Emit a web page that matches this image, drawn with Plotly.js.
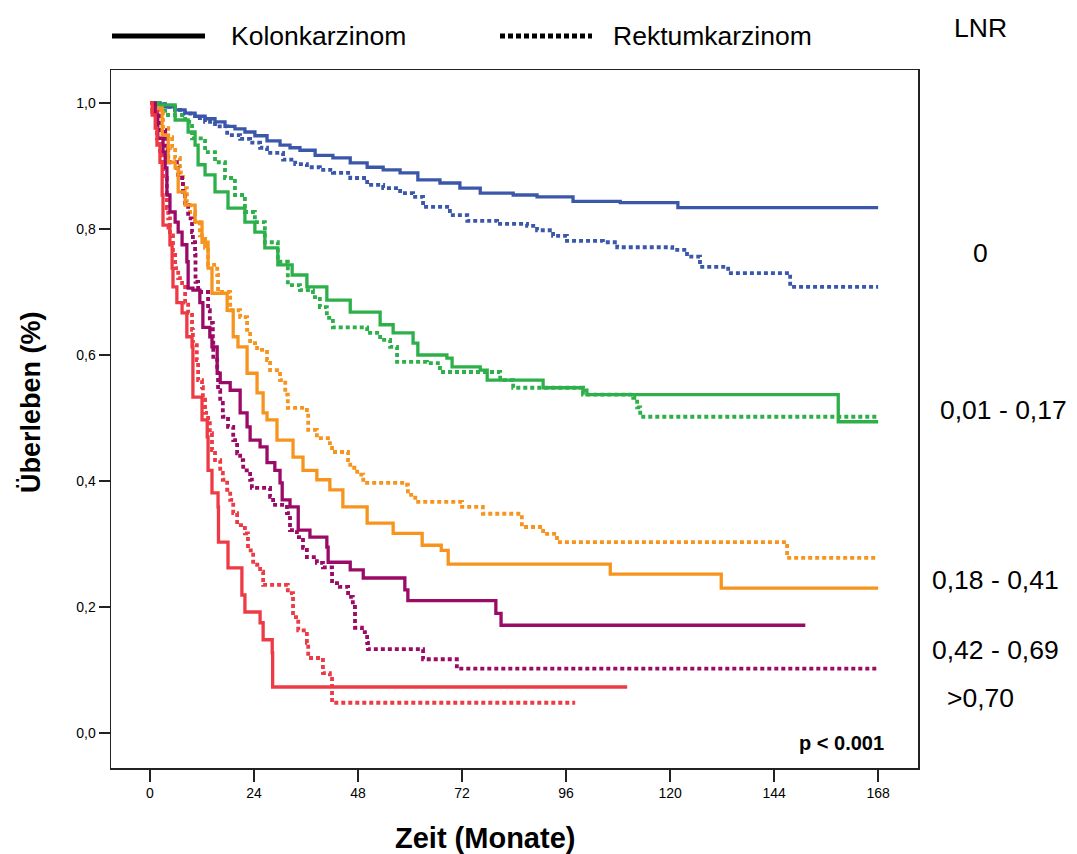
<!DOCTYPE html>
<html><head><meta charset="utf-8">
<script src="https://cdn.plot.ly/plotly-3.0.1.min.js"></script>
<style>html,body{margin:0;padding:0;background:#fff;} #chart{width:1077px;height:854px;}</style>
</head><body><div id="chart"></div>
<script>
// ---- labels ----
const groupLabels = ["0", "0,01 - 0,17", "0,18 - 0,41", "0,42 - 0,69", ">0,70"];
const seriesNames = ["Kolonkarzinom", "Rektumkarzinom"];
const xTickVals = [0, 24, 48, 72, 96, 120, 144, 168];
const xTickText = ["0", "24", "48", "72", "96", "120", "144", "168"];
const yTickVals = [0, 0.2, 0.4, 0.6, 0.8, 1.0];
const yTickText = ["0,0", "0,2", "0,4", "0,6", "0,8", "1,0"];

// ---- Kolonkarzinom (solid) ----
const kolon_lnr0_t = [0, 1.15, 3.46, 5.77, 8.08, 10.4, 12.7, 15.0, 17.3, 19.6, 21.9, 24.2, 27.0, 30.0, 32.3, 34.6, 38.1, 42.2, 46.2, 50.1, 53.8, 57.7, 61.8, 66.9, 71.5, 76.2, 83.8, 89.3, 97.6, 108.5, 121.8, 168];
const kolon_lnr0_s = [1.0, 0.998, 0.994, 0.989, 0.984, 0.979, 0.975, 0.970, 0.963, 0.959, 0.954, 0.948, 0.940, 0.933, 0.929, 0.925, 0.917, 0.913, 0.905, 0.898, 0.894, 0.889, 0.878, 0.873, 0.865, 0.857, 0.854, 0.851, 0.844, 0.842, 0.834, 0.834];

const kolon_lnr1_t = [0, 1.8, 5.8, 8.8, 10.4, 11.1, 12.7, 15.0, 18.0, 21.9, 24.2, 26.5, 29.5, 32.8, 36.2, 40.8, 46.2, 53.1, 56.1, 60.7, 61.8, 68.5, 69.7, 76.2, 77.8, 90.7, 99.9, 100.8, 158.8, 168];
const kolon_lnr1_s = [1.0, 0.997, 0.973, 0.954, 0.933, 0.902, 0.886, 0.859, 0.833, 0.811, 0.795, 0.770, 0.743, 0.727, 0.708, 0.687, 0.668, 0.648, 0.635, 0.619, 0.600, 0.595, 0.581, 0.576, 0.560, 0.548, 0.544, 0.537, 0.494, 0.494];

const kolon_lnr2_t = [0, 0.7, 2.8, 4.2, 5.8, 6.5, 8.1, 10.4, 12.0, 13.4, 14.3, 17.8, 19.2, 20.3, 22.4, 24.7, 26.1, 27.0, 29.3, 33.0, 35.3, 38.5, 41.5, 44.5, 50.1, 56.1, 62.8, 67.2, 68.8, 106.2, 131.8, 168];
const kolon_lnr2_s = [1.0, 0.992, 0.949, 0.906, 0.897, 0.859, 0.838, 0.811, 0.779, 0.738, 0.698, 0.671, 0.629, 0.613, 0.571, 0.540, 0.508, 0.497, 0.465, 0.438, 0.417, 0.402, 0.386, 0.359, 0.333, 0.317, 0.298, 0.290, 0.268, 0.252, 0.230, 0.230];

const kolon_lnr3_t = [0, 1.2, 1.8, 3.0, 3.5, 3.9, 4.6, 5.8, 6.5, 7.4, 8.5, 8.8, 9.9, 11.5, 12.2, 13.8, 14.3, 15.5, 16.2, 18.5, 20.8, 22.4, 23.1, 25.4, 27.0, 28.8, 30.0, 30.5, 32.3, 34.2, 36.9, 40.8, 41.1, 46.2, 49.2, 58.8, 59.5, 79.8, 81.0, 151.2];
const kolon_lnr3_s = [1.0, 0.981, 0.944, 0.922, 0.897, 0.854, 0.827, 0.811, 0.795, 0.775, 0.748, 0.706, 0.703, 0.683, 0.644, 0.629, 0.613, 0.571, 0.556, 0.544, 0.508, 0.486, 0.465, 0.454, 0.429, 0.417, 0.397, 0.370, 0.359, 0.322, 0.311, 0.295, 0.271, 0.259, 0.246, 0.227, 0.210, 0.190, 0.171, 0.171];

const kolon_lnr4_t = [0, 0.5, 1.2, 1.6, 2.3, 2.8, 3.0, 4.2, 4.6, 5.1, 5.3, 6.2, 7.4, 8.5, 9.7, 9.9, 12.0, 13.2, 13.4, 14.3, 15.7, 15.8, 18.0, 21.2, 21.9, 25.4, 26.1, 28.2, 28.3, 110.1];
const kolon_lnr4_s = [1.0, 0.981, 0.960, 0.933, 0.906, 0.854, 0.806, 0.802, 0.775, 0.738, 0.708, 0.683, 0.667, 0.629, 0.613, 0.533, 0.497, 0.470, 0.417, 0.381, 0.359, 0.303, 0.262, 0.219, 0.192, 0.175, 0.148, 0.127, 0.073, 0.073];

// ---- Rektumkarzinom (dotted) ----
const rektum_lnr0_t = [0, 1.15, 3.46, 5.77, 8.08, 10.4, 12.7, 15.0, 17.8, 20.8, 23.1, 25.4, 27.0, 30.7, 33.5, 36.2, 39.2, 42.2, 46.2, 50.1, 53.8, 57.7, 60.7, 63.0, 69.2, 73.2, 80.1, 87.0, 89.3, 93.0, 96.2, 104.5, 107.8, 120.5, 123.9, 126.9, 133.4, 147.7, 168];
const rektum_lnr0_s = [1.0, 0.998, 0.994, 0.989, 0.983, 0.976, 0.970, 0.963, 0.949, 0.943, 0.937, 0.929, 0.921, 0.910, 0.903, 0.898, 0.894, 0.889, 0.881, 0.870, 0.865, 0.857, 0.851, 0.835, 0.822, 0.813, 0.808, 0.805, 0.798, 0.789, 0.781, 0.779, 0.771, 0.767, 0.756, 0.740, 0.730, 0.708, 0.708];

const rektum_lnr1_t = [0, 2.3, 3.5, 8.1, 9.7, 12.7, 15.0, 17.3, 19.6, 21.9, 24.2, 26.5, 29.5, 31.8, 34.6, 37.6, 39.2, 40.8, 42.2, 50.1, 53.1, 55.4, 57.0, 63.9, 66.9, 80.8, 83.8, 99.9, 111.5, 112.4, 113.1, 168];
const rektum_lnr1_s = [1.0, 0.992, 0.981, 0.970, 0.944, 0.922, 0.906, 0.881, 0.854, 0.827, 0.811, 0.779, 0.748, 0.711, 0.703, 0.692, 0.676, 0.659, 0.644, 0.635, 0.624, 0.613, 0.589, 0.587, 0.573, 0.560, 0.548, 0.537, 0.532, 0.517, 0.502, 0.502];

const rektum_lnr2_t = [0, 1.2, 3.0, 4.2, 5.1, 5.8, 6.9, 7.6, 8.5, 9.2, 10.4, 11.5, 12.7, 13.4, 15.5, 15.7, 18.5, 20.8, 22.4, 23.1, 24.7, 27.0, 27.7, 30.0, 31.2, 31.8, 36.2, 36.5, 38.5, 41.5, 42.0, 45.7, 46.2, 47.8, 49.2, 58.8, 59.5, 61.2, 72.0, 76.8, 85.8, 90.7, 93.9, 147.0, 168];
const rektum_lnr2_s = [1.0, 0.989, 0.960, 0.946, 0.929, 0.913, 0.890, 0.865, 0.843, 0.827, 0.811, 0.790, 0.770, 0.743, 0.727, 0.700, 0.671, 0.660, 0.640, 0.619, 0.608, 0.592, 0.576, 0.560, 0.537, 0.516, 0.508, 0.481, 0.468, 0.460, 0.446, 0.433, 0.421, 0.410, 0.397, 0.394, 0.378, 0.367, 0.359, 0.348, 0.327, 0.316, 0.303, 0.278, 0.278];

const rektum_lnr3_t = [0, 1.2, 2.3, 3.5, 4.2, 6.2, 6.5, 7.4, 7.6, 8.1, 8.8, 9.7, 9.9, 10.4, 10.5, 11.1, 13.4, 13.8, 14.5, 14.6, 15.5, 15.7, 16.2, 16.8, 18.0, 19.2, 20.1, 20.8, 21.5, 23.1, 23.5, 27.7, 28.4, 31.6, 32.3, 33.9, 35.3, 36.2, 38.5, 39.9, 42.0, 43.8, 45.7, 46.8, 47.3, 48.9, 50.1, 50.3, 63.0, 70.8, 168];
const rektum_lnr3_s = [1.0, 0.986, 0.957, 0.925, 0.906, 0.897, 0.886, 0.875, 0.859, 0.838, 0.817, 0.795, 0.779, 0.759, 0.716, 0.700, 0.671, 0.651, 0.624, 0.597, 0.576, 0.544, 0.524, 0.502, 0.486, 0.465, 0.444, 0.433, 0.417, 0.402, 0.389, 0.375, 0.362, 0.349, 0.322, 0.311, 0.294, 0.279, 0.270, 0.263, 0.238, 0.232, 0.216, 0.200, 0.167, 0.160, 0.143, 0.133, 0.117, 0.102, 0.102];

const rektum_lnr4_t = [0, 0.5, 1.6, 2.3, 3.0, 3.9, 4.2, 4.6, 5.3, 5.8, 6.5, 7.4, 8.1, 8.8, 9.7, 9.9, 10.8, 11.1, 12.0, 12.2, 12.7, 13.4, 13.8, 14.3, 15.0, 16.2, 16.8, 17.8, 18.5, 19.2, 20.1, 21.9, 22.6, 23.8, 25.4, 26.1, 31.8, 33.0, 34.2, 36.2, 36.5, 39.9, 41.5, 42.0, 98.1];
const rektum_lnr4_s = [1.0, 0.986, 0.944, 0.917, 0.881, 0.833, 0.817, 0.790, 0.759, 0.738, 0.722, 0.714, 0.683, 0.667, 0.640, 0.619, 0.592, 0.560, 0.549, 0.529, 0.508, 0.497, 0.476, 0.449, 0.433, 0.413, 0.402, 0.386, 0.370, 0.349, 0.330, 0.317, 0.290, 0.267, 0.256, 0.235, 0.222, 0.184, 0.163, 0.143, 0.119, 0.095, 0.089, 0.048, 0.048];

const groupColors = ["#3B57A9", "#2DB04A", "#F7941E", "#9A0A66", "#EE3A44"];

const kolonT = [kolon_lnr0_t, kolon_lnr1_t, kolon_lnr2_t, kolon_lnr3_t, kolon_lnr4_t];
const kolonS = [kolon_lnr0_s, kolon_lnr1_s, kolon_lnr2_s, kolon_lnr3_s, kolon_lnr4_s];
const rektumT = [rektum_lnr0_t, rektum_lnr1_t, rektum_lnr2_t, rektum_lnr3_t, rektum_lnr4_t];
const rektumS = [rektum_lnr0_s, rektum_lnr1_s, rektum_lnr2_s, rektum_lnr3_s, rektum_lnr4_s];

const FONT = "Arial, 'Liberation Sans', sans-serif";
const traces = [];
for (let g = 0; g < 5; g++) {
  traces.push({
    x: rektumT[g], y: rektumS[g], type: "scatter", mode: "lines",
    name: seriesNames[1] + " LNR " + groupLabels[g],
    line: {shape: "hv", color: groupColors[g], width: 3.8, dash: "4px,3px"},
    showlegend: false, hoverinfo: "x+y+name"
  });
}
for (let g = 0; g < 5; g++) {
  traces.push({
    x: kolonT[g], y: kolonS[g], type: "scatter", mode: "lines",
    name: seriesNames[0] + " LNR " + groupLabels[g],
    line: {shape: "hv", color: groupColors[g], width: 3.3},
    showlegend: false, hoverinfo: "x+y+name"
  });
}

// pixel helpers for layout decorations (plot area 111..918 x 70..768)
const PX = (px) => (px - 111) / 807;
const PY = (py) => (768 - py) / 698;

const annotations = [
  {text: seriesNames[0], x: PX(229), y: PY(36), xanchor: "left", yanchor: "middle"},
  {text: seriesNames[1], x: PX(611), y: PY(36), xanchor: "left", yanchor: "middle"},
  {text: "LNR", x: PX(981), y: PY(28), xanchor: "center", yanchor: "middle"},
  {text: groupLabels[0], x: PX(981), y: PY(253), xanchor: "center", yanchor: "middle"},
  {text: groupLabels[1], x: PX(1003), y: PY(410), xanchor: "center", yanchor: "middle"},
  {text: groupLabels[2], x: PX(995), y: PY(580), xanchor: "center", yanchor: "middle"},
  {text: groupLabels[3], x: PX(995), y: PY(650), xanchor: "center", yanchor: "middle"},
  {text: groupLabels[4], x: PX(981), y: PY(698), xanchor: "center", yanchor: "middle"}
].map(a => Object.assign({xref: "paper", yref: "paper", showarrow: false, font: {family: FONT, size: 26.5, color: "#000"}}, a));

annotations.push({xref: "paper", yref: "paper", showarrow: false, text: "<b>p &lt; 0.001</b>",
  x: PX(886), y: PY(743), xanchor: "right", yanchor: "middle", font: {family: FONT, size: 20, color: "#000"}});
annotations.push({xref: "paper", yref: "paper", showarrow: false, text: "<b>Zeit (Monate)</b>",
  x: PX(485), y: PY(838), xanchor: "center", yanchor: "middle", font: {family: FONT, size: 29, color: "#000"}});
annotations.push({xref: "paper", yref: "paper", showarrow: false, text: "<b>Überleben (%)</b>", textangle: -90,
  x: PX(31), y: PY(402), xanchor: "center", yanchor: "middle", font: {family: FONT, size: 27, color: "#000"}});

const shapes = [
  {type: "line", xref: "paper", yref: "paper", x0: PX(112), x1: PX(205), y0: PY(36), y1: PY(36), line: {color: "#000", width: 5}},
  {type: "line", xref: "paper", yref: "paper", x0: PX(500), x1: PX(592), y0: PY(36), y1: PY(36), line: {color: "#000", width: 5, dash: "5px,3px"}}
];

const layout = {
  width: 1077, height: 854,
  margin: {l: 111, r: 159, t: 70, b: 86, pad: 0},
  paper_bgcolor: "#fff", plot_bgcolor: "#fff",
  showlegend: false,
  font: {family: FONT, color: "#000"},
  xaxis: {
    range: [-9, 177.2], tickvals: xTickVals, ticktext: xTickText,
    ticks: "outside", ticklen: 12, tickwidth: 1.3, tickcolor: "#222",
    showline: true, linecolor: "#222", linewidth: 1.5, mirror: true,
    showgrid: false, zeroline: false, tickfont: {family: FONT, size: 14}
  },
  yaxis: {
    range: [-0.0556, 1.0524], tickvals: yTickVals, ticktext: yTickText,
    ticks: "outside", ticklen: 11, tickwidth: 1.3, tickcolor: "#222",
    showline: true, linecolor: "#222", linewidth: 1.5, mirror: true,
    showgrid: false, zeroline: false, tickfont: {family: FONT, size: 14}
  },
  annotations: annotations,
  shapes: shapes
};

Plotly.newPlot("chart", traces, layout, {displayModeBar: false, staticPlot: true});
</script>
</body></html>
